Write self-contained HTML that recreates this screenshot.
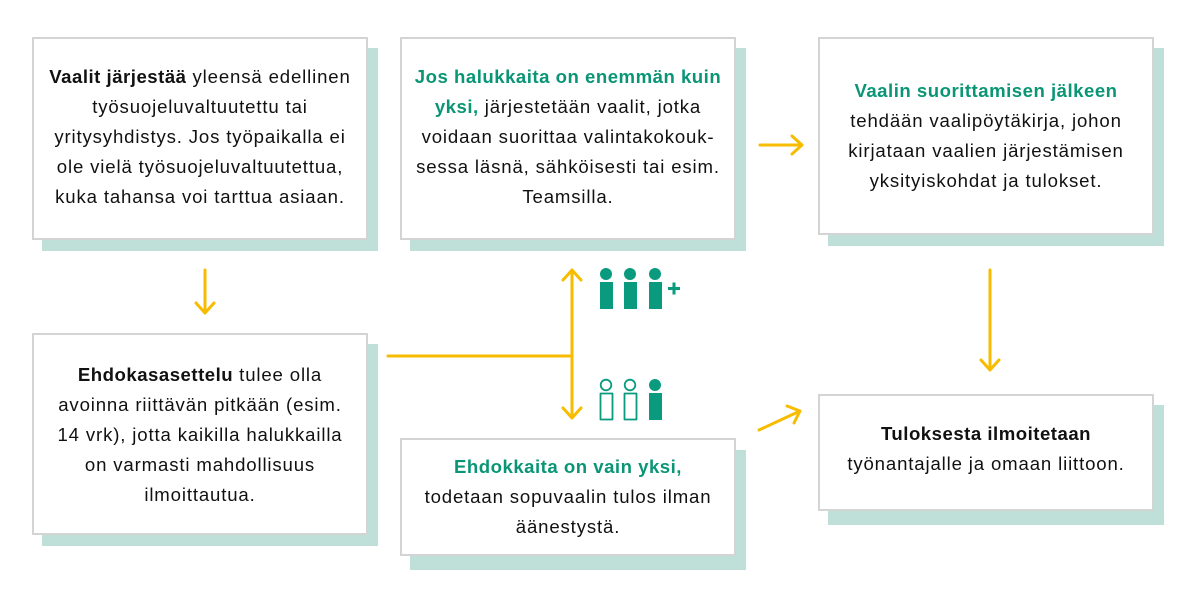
<!DOCTYPE html>
<html><head><meta charset="utf-8"><style>
body{margin:0;width:1200px;height:604px;background:#fff;position:relative;overflow:hidden;font-family:"Liberation Sans",sans-serif;}
.sh{position:absolute;background:#bfe0d9;}
.bx{position:absolute;background:#fff;border:2px solid #d4d4d4;box-sizing:border-box;}
.t{position:absolute;left:-10px;right:-10px;text-align:center;font-size:18.6px;line-height:30px;color:#111;white-space:nowrap;letter-spacing:0.85px;}
.g{color:#0a9676;}
b{font-weight:bold;letter-spacing:0.5px;}
</style></head><body>
<div class="sh" style="left:42px;top:48px;width:336px;height:203px"></div>
<div class="bx" style="left:32px;top:37px;width:336px;height:203px"><div class="t" style="top:23px"><b>Vaalit järjestää</b> yleensä edellinen<br>työsuojeluvaltuutettu tai<br>yritysyhdistys. Jos työpaikalla ei<br>ole vielä työsuojeluvaltuutettua,<br>kuka tahansa voi tarttua asiaan.</div></div>

<div class="sh" style="left:410px;top:48px;width:336px;height:203px"></div>
<div class="bx" style="left:400px;top:37px;width:336px;height:203px"><div class="t" style="top:23px"><b class="g">Jos halukkaita on enemmän kuin<br>yksi,</b> järjestetään vaalit, jotka<br>voidaan suorittaa valintakokouk-<br>sessa läsnä, sähköisesti tai esim.<br>Teamsilla.</div></div>

<div class="sh" style="left:828px;top:48px;width:336px;height:198px"></div>
<div class="bx" style="left:818px;top:37px;width:336px;height:198px"><div class="t" style="top:37px"><b class="g">Vaalin suorittamisen jälkeen</b><br>tehdään vaalipöytäkirja, johon<br>kirjataan vaalien järjestämisen<br>yksityiskohdat ja tulokset.</div></div>

<div class="sh" style="left:42px;top:344px;width:336px;height:202px"></div>
<div class="bx" style="left:32px;top:333px;width:336px;height:202px"><div class="t" style="top:25px"><b>Ehdokasasettelu</b> tulee olla<br>avoinna riittävän pitkään (esim.<br>14 vrk), jotta kaikilla halukkailla<br>on varmasti mahdollisuus<br>ilmoittautua.</div></div>

<div class="sh" style="left:410px;top:450px;width:336px;height:120px"></div>
<div class="bx" style="left:400px;top:438px;width:336px;height:118px"><div class="t" style="top:12px"><b class="g">Ehdokkaita on vain yksi,</b><br>todetaan sopuvaalin tulos ilman<br>äänestystä.</div></div>

<div class="sh" style="left:828px;top:405px;width:336px;height:120px"></div>
<div class="bx" style="left:818px;top:394px;width:336px;height:117px"><div class="t" style="top:23px"><b>Tuloksesta ilmoitetaan</b><br>työnantajalle ja omaan liittoon.</div></div>

<svg width="1200" height="604" style="position:absolute;left:0;top:0" fill="none" stroke="#f7bc00" stroke-width="3" stroke-linecap="round" stroke-linejoin="round">
<path d="M205 270V313M196 303L205 313L214 303"/>
<path d="M990 270V370M981 360L990 370L999 360"/>
<path d="M760 145H802M792 136L802 145L792 154"/>
<path d="M759 430L800 411M787 406L800 411L794 423"/>
<path d="M388 356H572M572 270V418M563 280L572 270L581 280M563 408L572 418L581 408"/>
<g fill="#0a9a7d" stroke="none">
<circle cx="606" cy="274" r="6"/><rect x="600" y="282" width="13" height="27"/>
<circle cx="630" cy="274" r="6"/><rect x="624" y="282" width="13" height="27"/>
<circle cx="655" cy="274" r="6"/><rect x="649" y="282" width="13" height="27"/>
<rect x="668" y="287" width="12" height="3"/><rect x="672.5" y="282.5" width="3" height="12"/>
<circle cx="655" cy="385" r="6"/><rect x="649" y="393" width="13" height="27"/>
</g>
<g stroke="#0a9a7d" stroke-width="1.8">
<circle cx="606" cy="385" r="5.3"/><rect x="600.5" y="393.5" width="12" height="26"/>
<circle cx="630" cy="385" r="5.3"/><rect x="624.5" y="393.5" width="12" height="26"/>
</g>
</svg>
</body></html>
